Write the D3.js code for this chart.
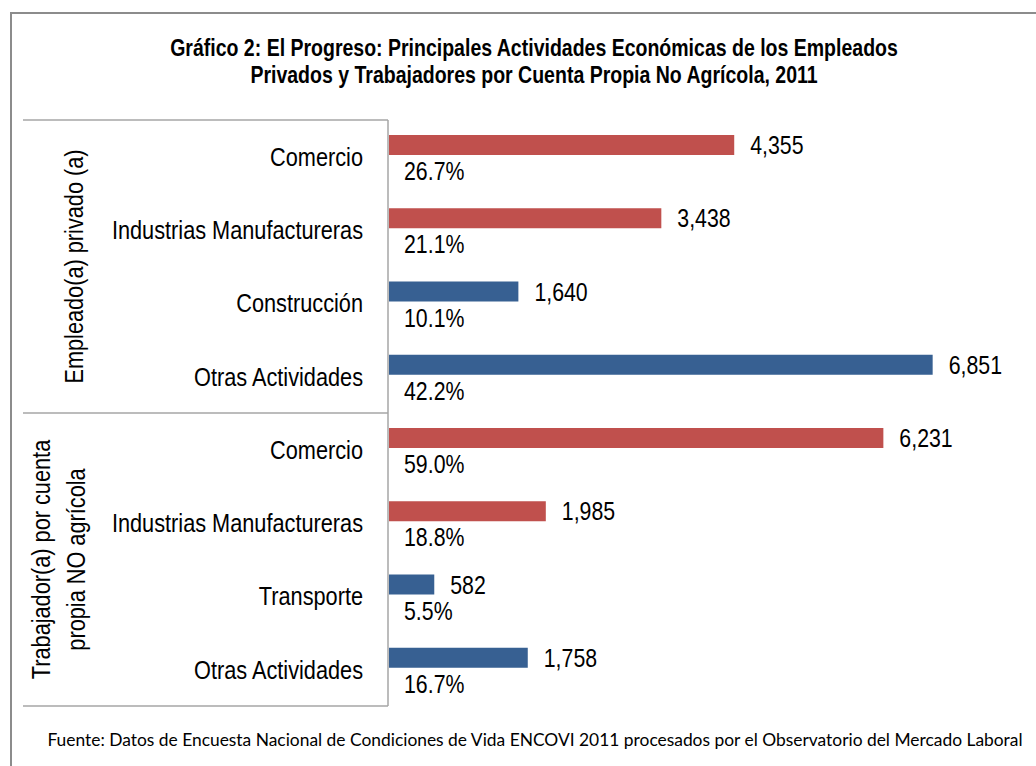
<!DOCTYPE html>
<html>
<head>
<meta charset="utf-8">
<script src="https://cdn.jsdelivr.net/npm/d3@7"></script>
<style>
  body { margin: 0; background: #fff; }
</style>
</head>
<body>
<script>
// data
var groups = [["Empleado(a) privado (a)"], ["Trabajador(a) por cuenta", "propia NO agrícola"]];
var categories = ["Comercio", "Industrias Manufactureras", "Construcción", "Otras Actividades",
                  "Comercio", "Industrias Manufactureras", "Transporte", "Otras Actividades"];
var groupOf = [0, 0, 0, 0, 1, 1, 1, 1];
var values = [4355, 3438, 1640, 6851, 6231, 1985, 582, 1758];
var shares = [26.7, 21.1, 10.1, 42.2, 59.0, 18.8, 5.5, 16.7];
var redCats = ["Comercio", "Industrias Manufactureras"];

var title = ["Gráfico 2: El Progreso: Principales Actividades Económicas de los Empleados",
             "Privados y Trabajadores por Cuenta Propia No Agrícola, 2011"];
var source = "Fuente: Datos de Encuesta Nacional de Condiciones de Vida ENCOVI 2011 procesados por el Observatorio del Mercado Laboral";

var width = 1036, height = 766;

// check whether a narrow font is installed, otherwise squeeze normal one
var ctx = document.createElement("canvas").getContext("2d");
ctx.font = "26px 'Liberation Sans Narrow', monospace";
var wN = ctx.measureText("Industrias Manufactureras").width;
ctx.font = "26px monospace";
var wM = ctx.measureText("Industrias Manufactureras").width;
var hasNarrow = Math.abs(wN - wM) > 1;
var narrowFont = hasNarrow ? "'Liberation Sans Narrow', 'Arial Narrow', sans-serif" : "'Liberation Sans', Arial, sans-serif";
var squeeze = hasNarrow ? 1 : 0.82;

function narrowText(sel, x, y) {
  sel.attr("font-family", narrowFont)
     .attr("transform", "translate(" + x + "," + y + ") scale(" + squeeze + ",1)");
  return sel;
}

var svg = d3.select("body").append("svg")
    .attr("width", width)
    .attr("height", height);

// outer frame (only top and left visible)
svg.append("path")
    .attr("d", "M11,767V13H1037")
    .attr("fill", "none")
    .attr("stroke", "#8c8c8c")
    .attr("stroke-width", 2);

var x = d3.scaleLinear().domain([0, 8000]).range([388, 1024]);
var y = d3.scaleBand().domain(d3.range(categories.length)).range([120, 706]);

// title
title.forEach(function(t, i) {
  narrowText(svg.append("text"), 534, 56 + i * 27)
      .attr("text-anchor", "middle")
      .attr("font-size", 23.8)
      .attr("font-weight", "bold")
      .attr("fill", "#000")
      .text(t);
});

// group separators and axis
var gridColor = "#a6a6a6";
[0, 4, 8].forEach(function(i) {
  var yy = i < 8 ? y(i) : y.range()[1];
  svg.append("line")
      .attr("x1", 23).attr("x2", 388)
      .attr("y1", yy).attr("y2", yy)
      .attr("stroke", gridColor)
      .attr("stroke-width", 1.5);
});
svg.append("line")
    .attr("x1", 388).attr("x2", 388)
    .attr("y1", 120).attr("y2", 706)
    .attr("stroke", gridColor)
    .attr("stroke-width", 1.5);

// bars
svg.append("g").selectAll("rect")
    .data(values)
  .enter().append("rect")
    .attr("x", x(0) + 1)
    .attr("y", function(d, i) { return y(i) + 15; })
    .attr("width", function(d) { return x(d) - x(0) - 1; })
    .attr("height", 20)
    .attr("fill", function(d, i) { return redCats.indexOf(categories[i]) >= 0 ? "#c0504d" : "#376092"; });

// value labels
var fmt = d3.format(",");
values.forEach(function(d, i) {
  narrowText(svg.append("text"), x(d) + 16, y(i) + 25)
      .attr("dy", "0.35em")
      .attr("font-size", 26)
      .attr("fill", "#000")
      .text(fmt(d));
});

// share labels
shares.forEach(function(d, i) {
  narrowText(svg.append("text"), 404, y(i) + 51)
      .attr("dy", "0.35em")
      .attr("font-size", 26)
      .attr("fill", "#000")
      .text(d.toFixed(1) + "%");
});

// category labels
categories.forEach(function(c, i) {
  narrowText(svg.append("text"), 363, y(i) + y.bandwidth() / 2)
      .attr("dy", "0.35em")
      .attr("text-anchor", "end")
      .attr("font-size", 26.5)
      .attr("fill", "#000")
      .text(c);
});

// group labels (vertical)
groups.forEach(function(lines, g) {
  var idx = groupOf.indexOf(g);
  var cy = (y(idx) + y(idx + 3) + y.bandwidth()) / 2;
  var cx = lines.length == 1 ? 74 : 58;
  lines.forEach(function(t, k) {
    var lx = cx + (k - (lines.length - 1) / 2) * 35;
    svg.append("text")
        .attr("font-family", narrowFont)
        .attr("transform", "translate(" + lx + "," + cy + ") rotate(-90) scale(" + squeeze + ",1)")
        .attr("text-anchor", "middle")
        .attr("dy", "0.35em")
        .attr("font-size", 26.5)
        .attr("fill", "#000")
        .text(t);
  });
});

// source note
svg.append("text")
    .attr("x", 535)
    .attr("y", 746)
    .attr("text-anchor", "middle")
    .attr("font-family", "Lato, 'Open Sans', sans-serif")
    .attr("font-size", 17.4)
    .attr("fill", "#000")
    .text(source);
</script>
</body>
</html>
